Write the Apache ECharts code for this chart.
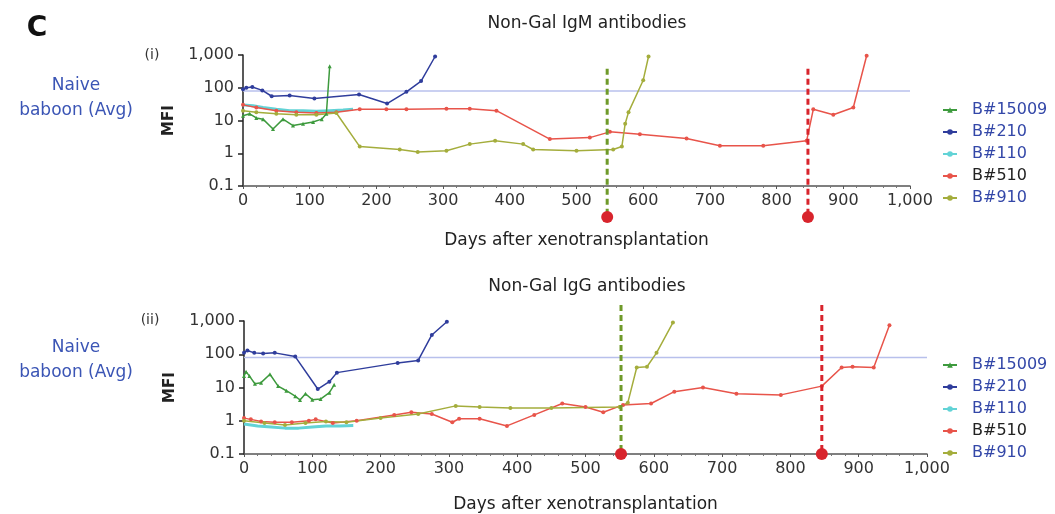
<!DOCTYPE html>
<html>
<head>
<meta charset="utf-8">
<script src="https://cdn.jsdelivr.net/npm/echarts@6/dist/echarts.min.js"></script>
<style>
  html, body { margin: 0; padding: 0; background: #fff; }
  #chart { width: 1055px; height: 514px; }
</style>
</head>
<body>
<div id="chart"></div>
<script>
// series names and colours
const seriesNames = ['B#15009', 'B#210', 'B#110', 'B#510', 'B#910'];
const seriesColors = ['#3d9a3d', '#2f3d9c', '#62d3d6', '#e8544a', '#a4ad3c'];
const xTicks = [0, 100, 200, 300, 400, 500, 600, 700, 800, 900, 1000];
const yTicks = [0.1, 1, 10, 100, 1000];
const naiveAvg = 80;

// (i) Non-Gal IgM, [day, MFI]
const igmB15009 = [[0, 14], [10, 16], [20, 12], [30, 11], [45, 5.5], [60, 11], [75, 7], [90, 8], [105, 9], [118, 11], [125, 16], [130, 450]];
const igmB210 = [[0, 90], [5, 100], [14, 105], [29, 83], [43, 55], [70, 58], [107, 47], [174, 62], [216, 33], [245, 75], [267, 160], [288, 900]];
const igmB110 = [[0, 30], [15, 28], [30, 25], [50, 22], [70, 20], [90, 20], [110, 19], [130, 20], [150, 21], [165, 22]];
const igmB510 = [[0, 30], [20, 25], [50, 20], [80, 18], [110, 17], [140, 18], [175, 22], [215, 22], [245, 22], [305, 23], [340, 23], [380, 20], [460, 2.7], [520, 3.0], [550, 4.5], [595, 3.8], [665, 2.8], [715, 1.7], [780, 1.7], [845, 2.4], [855, 22], [885, 15], [915, 25], [935, 950]];
const igmB910 = [[0, 20], [20, 18], [50, 16], [80, 15], [110, 15], [140, 17], [175, 1.6], [235, 1.3], [262, 1.1], [305, 1.2], [340, 1.9], [378, 2.4], [420, 1.9], [435, 1.3], [500, 1.2], [555, 1.3], [568, 1.6], [573, 8], [578, 18], [600, 170], [608, 900]];

// (ii) Non-Gal IgG, [day, MFI]
const iggB15009 = [[0, 22], [3, 30], [8, 22], [16, 13], [25, 14], [38, 25], [50, 11], [62, 8], [75, 5.5], [82, 4.2], [90, 6.5], [100, 4.3], [112, 4.5], [125, 7], [132, 12]];
const iggB210 = [[0, 110], [5, 130], [15, 110], [28, 105], [45, 110], [75, 85], [108, 9], [125, 15], [136, 28], [225, 55], [255, 65], [275, 380], [297, 950]];
const iggB110 = [[0, 0.8], [20, 0.7], [40, 0.65], [60, 0.6], [80, 0.6], [100, 0.65], [120, 0.7], [140, 0.7], [160, 0.72]];
const iggB510 = [[0, 1.2], [10, 1.1], [25, 0.95], [45, 0.9], [70, 0.9], [95, 1.0], [105, 1.1], [130, 0.85], [165, 1.0], [220, 1.5], [245, 1.8], [275, 1.6], [305, 0.9], [315, 1.15], [345, 1.15], [385, 0.7], [425, 1.5], [466, 3.3], [500, 2.6], [526, 1.8], [555, 3.0], [596, 3.3], [630, 7.5], [672, 10], [721, 6.5], [786, 6], [846, 11], [875, 40], [891, 42], [922, 40], [945, 750]];
const iggB910 = [[0, 1.0], [30, 0.85], [60, 0.75], [90, 0.85], [120, 0.95], [150, 0.9], [200, 1.2], [255, 1.6], [310, 2.8], [345, 2.6], [390, 2.4], [450, 2.4], [550, 2.6], [562, 3.5], [575, 40], [590, 42], [604, 110], [628, 900]];

// rejection / event days (dashed lines), [day, MFI at top of line]
const igmEvents = [[546, 380], [847, 380]];
const iggEvents = [[552, 1000], [846, 1000]];
const eventColors = ['#6f9a2a', '#d8242c'];

const chart = echarts.init(document.getElementById('chart'));
const font = 'DejaVu Sans, sans-serif';

function xAxisFor(gridIndex, gap) {
  return {
    gridIndex: gridIndex, type: 'value', min: 0, max: 1000, interval: 100,
    name: 'Days after xenotransplantation', nameLocation: 'middle', nameGap: gap,
    nameTextStyle: { color: '#222', fontSize: 17, fontFamily: font },
    axisLine: { lineStyle: { color: '#555', width: 1.5 } },
    axisTick: { show: true, length: 3, lineStyle: { color: '#555' } },
    minorTick: { show: true, splitNumber: 5, length: 2, lineStyle: { color: '#777' } },
    splitLine: { show: false },
    axisLabel: { color: '#333', fontSize: 16, fontFamily: font, margin: 7,
      formatter: v => v === 1000 ? '1,000' : String(v) }
  };
}

function yAxisFor(gridIndex) {
  return {
    gridIndex: gridIndex, type: 'log', logBase: 10, min: 0.1, max: 1000,
    name: 'MFI', nameLocation: 'middle', nameGap: 66,
    nameTextStyle: { color: '#222', fontSize: 15, fontFamily: font, fontWeight: 'bold' },
    axisLine: { show: true, lineStyle: { color: '#222', width: 1.5 } },
    axisTick: { show: true, length: 5, lineStyle: { color: '#222', width: 1.5 } },
    splitLine: { show: false },
    axisLabel: { color: '#333', fontSize: 16, fontFamily: font, margin: 9,
      formatter: v => v >= 1000 ? '1,000' : String(+(+v).toPrecision(3)) }
  };
}

function dataSeries(data, i, axisIndex) {
  return {
    name: seriesNames[i], type: 'line', data: data,
    xAxisIndex: axisIndex, yAxisIndex: axisIndex,
    symbol: i === 0 ? 'triangle' : 'circle', symbolSize: i === 2 ? 0 : 4,
    showSymbol: i !== 2,
    lineStyle: { color: seriesColors[i], width: i === 2 ? 3 : 1.5 },
    itemStyle: { color: seriesColors[i] },
    z: i === 2 ? 2 : 3
  };
}

function naiveSeries(axisIndex) {
  return {
    name: 'naive', type: 'line', xAxisIndex: axisIndex, yAxisIndex: axisIndex,
    data: [[0, naiveAvg], [1000, naiveAvg]], symbol: 'none', silent: true,
    lineStyle: { color: '#b8c0ec', width: 1.5 }, z: 1
  };
}

function eventSeries(data, axisIndex, below, above) {
  return {
    type: 'custom', xAxisIndex: axisIndex, yAxisIndex: axisIndex, data: data,
    clip: false, silent: true, z: 5,
    renderItem: (params, api) => {
      const top = api.coord([api.value(0), api.value(1)]);
      const cs = params.coordSys;
      const yTop = top[1] - above;
      const yBot = cs.y + cs.height + below;
      const col = eventColors[params.dataIndex];
      return {
        type: 'group', children: [
          { type: 'line', shape: { x1: top[0], y1: yTop, x2: top[0], y2: yBot },
            style: { stroke: col, lineWidth: 3, lineDash: [6, 4] } },
          { type: 'circle', shape: { cx: top[0], cy: yBot, r: 6 },
            style: { fill: '#d8242c' } }
        ]
      };
    }
  };
}

function legendFor(top) {
  return {
    orient: 'vertical', left: 937, top: top, itemGap: 6, itemWidth: 14, itemHeight: 7,
    data: seriesNames.map((n, i) => ({ name: n,
      textStyle: { color: i === 3 ? '#222' : '#3347a8' } })),
    textStyle: { fontSize: 16, fontFamily: font, padding: [0, 0, 0, 10] }
  };
}

function label(text, x, y, size, color, weight) {
  return { type: 'text', x: x, y: y,
    style: { text: text, fontSize: size, fontWeight: weight || 'normal', fill: color,
      fontFamily: font, align: 'center', verticalAlign: 'middle', lineHeight: 25 } };
}

const option = {
  animation: false,
  backgroundColor: '#fff',
  title: [
    { text: 'Non-Gal IgM antibodies', left: 582, top: 10, textAlign: 'center',
      textStyle: { fontSize: 17, fontWeight: 'normal', color: '#222', fontFamily: font } },
    { text: 'Non-Gal IgG antibodies', left: 582, top: 273, textAlign: 'center',
      textStyle: { fontSize: 17, fontWeight: 'normal', color: '#222', fontFamily: font } }
  ],
  legend: [legendFor(97), legendFor(352)],
  grid: [
    { left: 243, right: 145, top: 55, height: 131 },
    { left: 244, right: 128, top: 321, height: 133 }
  ],
  xAxis: [xAxisFor(0, 46), xAxisFor(1, 42)],
  yAxis: [yAxisFor(0), yAxisFor(1)],
  graphic: [
    label('C', 37, 29, 28, '#111', 'bold'),
    label('(i)', 152, 55, 14, '#333'),
    label('(ii)', 150, 320, 14, '#333'),
    label('Naive\nbaboon (Avg)', 76, 98, 17, '#3b55b5'),
    label('Naive\nbaboon (Avg)', 76, 360, 17, '#3b55b5')
  ],
  series: [
    naiveSeries(0), naiveSeries(1),
    dataSeries(igmB110, 2, 0), dataSeries(igmB15009, 0, 0), dataSeries(igmB210, 1, 0),
    dataSeries(igmB510, 3, 0), dataSeries(igmB910, 4, 0),
    dataSeries(iggB110, 2, 1), dataSeries(iggB15009, 0, 1), dataSeries(iggB210, 1, 1),
    dataSeries(iggB510, 3, 1), dataSeries(iggB910, 4, 1),
    eventSeries(igmEvents, 0, 31, 0),
    eventSeries(iggEvents, 1, 0, 16)
  ]
};

chart.setOption(option);
</script>
</body>
</html>
